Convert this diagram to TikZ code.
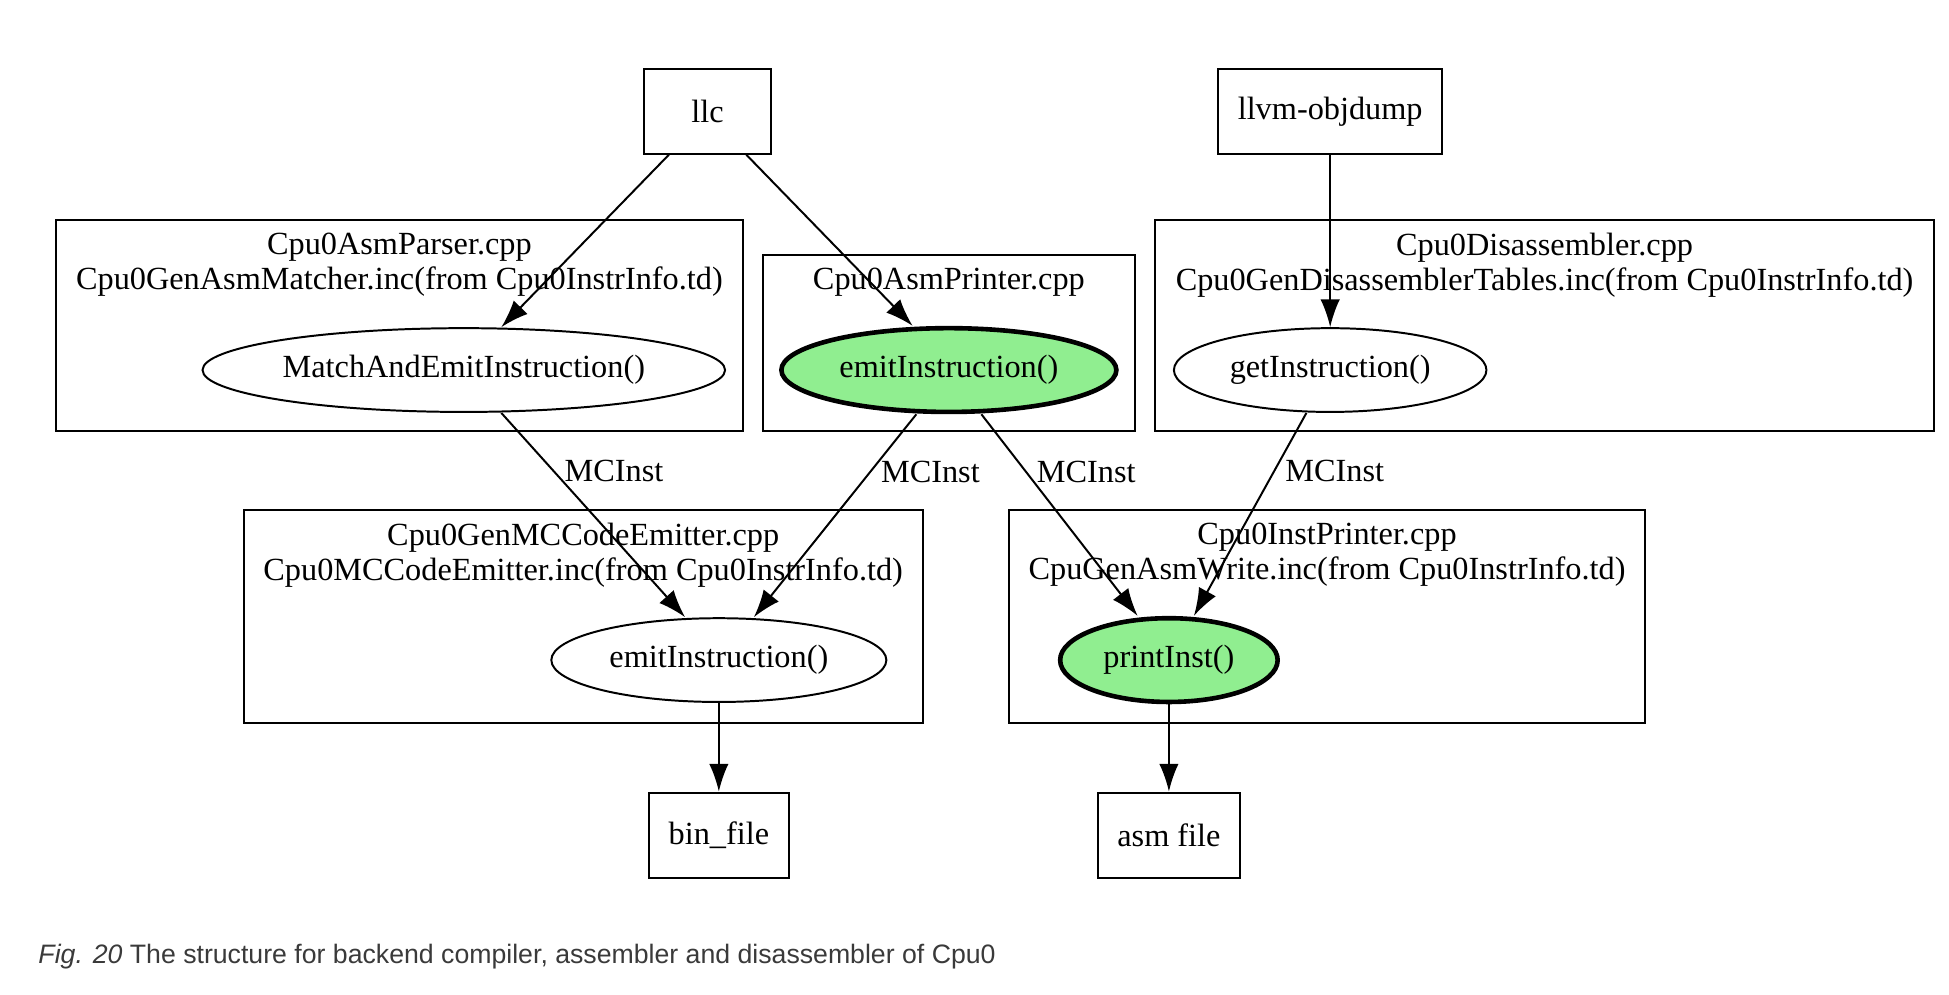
\documentclass[tikz,border=0pt]{standalone}
\usepackage{fontspec}
\setmainfont{Liberation Serif}
\newfontfamily\capfont{Liberation Sans}
\usepackage{tikz}
\usetikzlibrary{shapes.geometric,arrows.meta}

\definecolor{lightgreen}{HTML}{90EE90}
\definecolor{capgray}{HTML}{3A3A3A}

\tikzset{
	tool/.style={draw, rectangle, line width=0.45pt, minimum height=0.68cm, inner sep=0pt},
	func/.style={draw, ellipse, line width=0.45pt, minimum height=0.67cm, inner sep=0pt},
	hot/.style={func, fill=lightgreen, line width=1.05pt},
	cluster/.style={draw, rectangle, line width=0.45pt, inner sep=0pt},
	title/.style={anchor=north, align=center, inner sep=3pt},
	mc/.style={anchor=west, inner sep=0pt, xshift=0.08cm},
}

\begin{document}
\begin{tikzpicture}[font=\fontsize{7.35}{7.9}\selectfont, >={Latex[length=6.3pt,width=4.4pt]}, line width=0.45pt]
	\useasboundingbox (0,0) rectangle (15.59,-7.952);

	%Clusters
	\node[cluster, minimum width=5.49cm, minimum height=1.69cm] (parser) at (3.195,-2.605) {};
	\node[cluster, minimum width=2.98cm, minimum height=1.41cm] (printer) at (7.59,-2.745) {};
	\node[cluster, minimum width=6.23cm, minimum height=1.69cm] (disasm) at (12.355,-2.605) {};
	\node[cluster, minimum width=5.43cm, minimum height=1.70cm] (emitter) at (4.665,-4.93) {};
	\node[cluster, minimum width=5.09cm, minimum height=1.70cm] (instprinter) at (10.615,-4.93) {};
	\node[title] (parsertitle) at (parser.north) {Cpu0AsmParser.cpp\\Cpu0GenAsmMatcher.inc(from Cpu0InstrInfo.td)};
	\node[title] (printertitle) at (printer.north) {Cpu0AsmPrinter.cpp};
	\node[title] (disasmtitle) at (disasm.north) {Cpu0Disassembler.cpp\\Cpu0GenDisassemblerTables.inc(from Cpu0InstrInfo.td)};
	\node[title] (emittertitle) at (emitter.north) {Cpu0GenMCCodeEmitter.cpp\\Cpu0MCCodeEmitter.inc(from Cpu0InstrInfo.td)};
	\node[title] (instprintertitle) at (instprinter.north) {Cpu0InstPrinter.cpp\\CpuGenAsmWrite.inc(from Cpu0InstrInfo.td)};

	%Tools and files
	\node[tool, minimum width=1.02cm] (llc) at (5.66,-0.89) {llc};
	\node[tool, minimum width=1.79cm] (objdump) at (10.64,-0.89) {llvm-objdump};
	\node[tool, minimum width=1.12cm] (bin) at (5.75,-6.68) {bin\_file};
	\node[tool, minimum width=1.14cm] (asm) at (9.35,-6.68) {asm file};

	%Functions
	\node[func, minimum width=4.18cm] (match) at (3.71,-2.96) {MatchAndEmitInstruction()};
	\node[hot, minimum width=2.68cm] (emitP) at (7.59,-2.96) {emitInstruction()};
	\node[func, minimum width=2.50cm] (getI) at (10.64,-2.96) {getInstruction()};
	\node[func, minimum width=2.68cm] (emitE) at (5.75,-5.28) {emitInstruction()};
	\node[hot, minimum width=1.74cm] (printI) at (9.35,-5.28) {printInst()};

	\draw[->] ([xshift=-0.31cm]llc.south) -- ([xshift=0.30cm]match.north);
	\draw[->] ([xshift=0.31cm]llc.south) -- ([xshift=-0.29cm]emitP.north);
	\draw[->] (objdump.south) -- (getI.north);
	\draw[->] ([xshift=0.30cm]match.south) -- node[mc, pos=0.285] {MCInst} ([xshift=-0.27cm]emitE.north);
	\draw[->] ([xshift=-0.26cm]emitP.south) -- node[mc, pos=0.285] {MCInst} ([xshift=0.28cm]emitE.north);
	\draw[->] ([xshift=0.26cm]emitP.south) -- node[mc, pos=0.285] {MCInst} ([xshift=-0.25cm]printI.north);
	\draw[->] ([xshift=-0.19cm]getI.south) -- node[mc, pos=0.285] {MCInst} ([xshift=0.20cm]printI.north);
	\draw[->] (emitE.south) -- (bin.north);
	\draw[->] (printI.south) -- (asm.north);

	%Caption
	\node[anchor=west, inner sep=0pt, text=capgray, font=\capfont\fontsize{6.07}{7}\selectfont] (caption) at (0.30,-7.65) {\textit{Fig. 20} The structure for backend compiler, assembler and disassembler of Cpu0};
\end{tikzpicture}
\end{document}
